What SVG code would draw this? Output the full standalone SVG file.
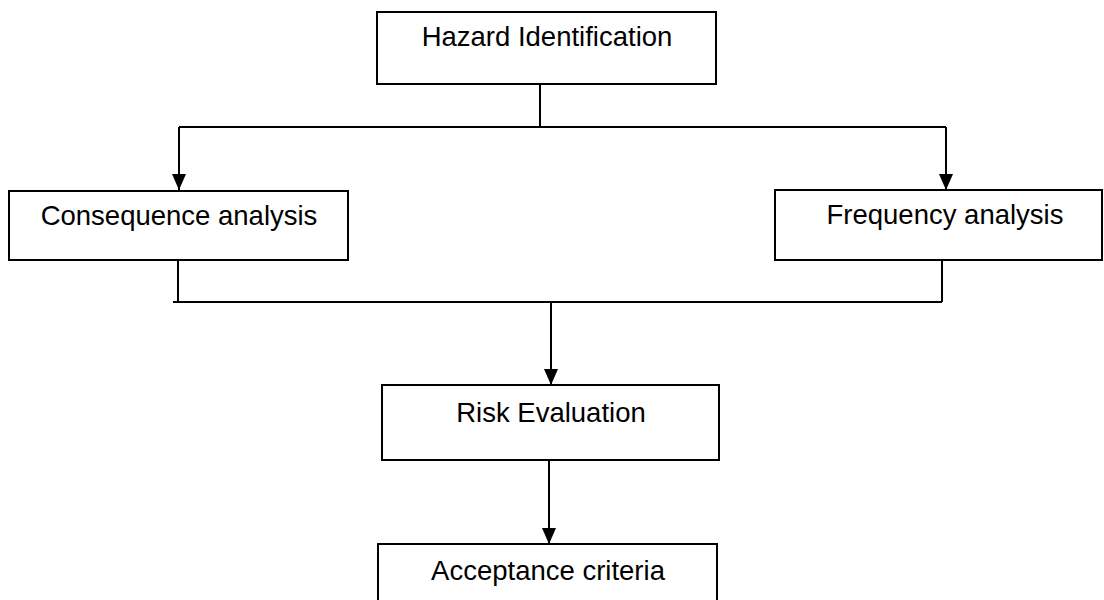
<svg xmlns="http://www.w3.org/2000/svg" width="1104" height="600" viewBox="0 0 1104 600">
<style>
.box{fill:#fff;stroke:#000;stroke-width:2}
.lbl{font-family:"Liberation Sans",Arial,sans-serif;font-size:27.5px;fill:#000;text-anchor:middle}
.ln{fill:none;stroke:#000;stroke-width:2}
</style>
<defs>
<marker id="arr" markerWidth="16" markerHeight="14" refX="16" refY="7" orient="auto" markerUnits="userSpaceOnUse" viewBox="0 0 16 14">
<path d="M0,0 L16,7 L0,14 Z" fill="#000"/>
</marker>
</defs>
<g id="connectors">
<path class="ln" d="M540,84 V127"/>
<path class="ln" d="M179,127 H946"/>
<path class="ln" d="M179,127 V190" marker-end="url(#arr)"/>
<path class="ln" d="M946,127 V190" marker-end="url(#arr)"/>
<path class="ln" d="M178,260 V302"/>
<path class="ln" d="M942,260 V302"/>
<path class="ln" d="M173,302 H942"/>
<path class="ln" d="M551,302 V385" marker-end="url(#arr)"/>
<path class="ln" d="M549,460 V544" marker-end="url(#arr)"/>
</g>
<g id="hazard">
<rect class="box" x="377" y="12" width="339" height="72"/>
<text class="lbl" x="547" y="46">Hazard Identification</text>
</g>
<g id="consequence">
<rect class="box" x="9" y="191" width="339" height="69"/>
<text class="lbl" x="179" y="225">Consequence analysis</text>
</g>
<g id="frequency">
<rect class="box" x="775" y="190" width="327" height="70"/>
<text class="lbl" x="945" y="224">Frequency analysis</text>
</g>
<g id="risk">
<rect class="box" x="382" y="385" width="337" height="75"/>
<text class="lbl" x="551" y="422">Risk Evaluation</text>
</g>
<g id="acceptance">
<rect class="box" x="378" y="544" width="339" height="70"/>
<text class="lbl" x="548" y="580">Acceptance criteria</text>
</g>
</svg>
